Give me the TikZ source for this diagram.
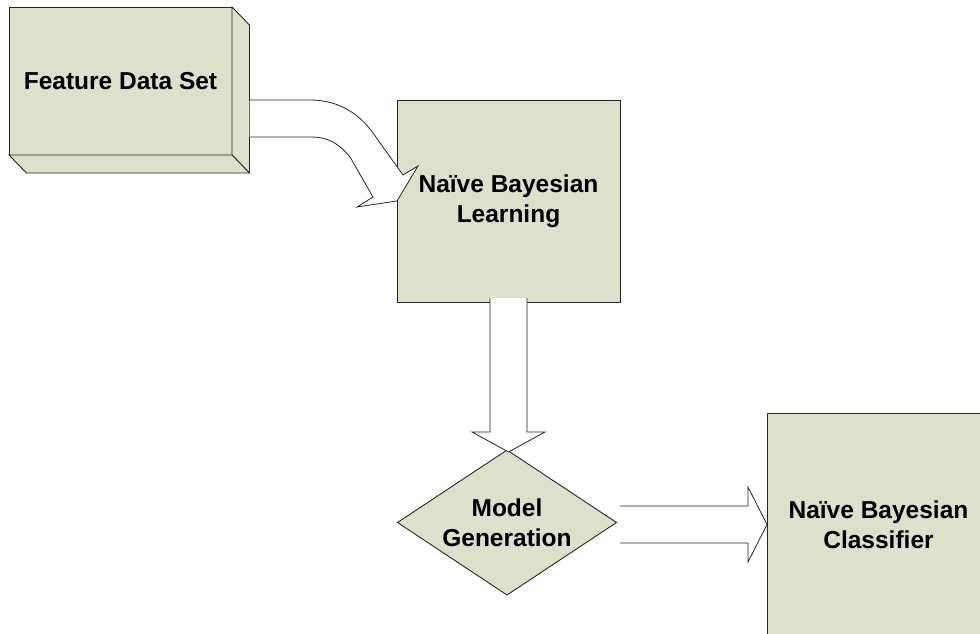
\documentclass[tikz,border=0pt]{standalone}
\usepackage{fontspec}
\setmainfont{Liberation Sans}
\usetikzlibrary{calc,shapes.geometric}
\definecolor{boxfill}{HTML}{DDE0CA}
\definecolor{edge}{HTML}{262626}
\begin{document}
\begin{tikzpicture}[x=1pt,y=-1pt,
  txt/.style={font=\fontsize{24.5}{30}\selectfont\bfseries, align=center, text=black, inner sep=0pt},
  boxface/.style={draw=edge, line width=0.9pt, fill=boxfill, inner sep=0pt, outer sep=0pt, txt},
  blockarrow/.style={draw=edge, line width=0.8pt, fill=white, line join=miter}]
\useasboundingbox (0,0) rectangle (980,634);
\clip (0,0) rectangle (980,634);

% 3D box: front face plus right and bottom faces
\node[boxface, minimum width=223pt, minimum height=148pt] (fds) at (120.5,81) {Feature Data Set};
\draw[boxface] (fds.north east) -- ++(17.5,18) -- ++(0,148) -- (fds.south east) -- cycle;
\draw[boxface] (fds.south west) -- ++(17.5,18) -- ($(fds.south east)+(17.5,18)$) -- (fds.south east) -- cycle;

% learning block
\node[boxface, minimum width=223pt, minimum height=202pt] (learn) at (508.5,201) {Naïve Bayesian\\Learning};

% classifier block, running past the lower edge
\node[boxface, minimum width=223pt, minimum height=250pt, anchor=north] (class) at (878.5,413) {};
\node[txt] (classtext) at (878.5,524.5) {Naïve Bayesian\\Classifier};
\coordinate (classin) at (class.west |- classtext.center);

% decision diamond
\node[boxface, diamond, aspect=1.5, minimum width=219pt, minimum height=145pt] (model) at (507,522.5) {Model\\Generation};

% curved block arrow from the data set into the learning block
\coordinate (ca1) at ($(fds.north east)+(17.5,93)$);
\coordinate (ca2) at ($(fds.north east)+(17.5,130)$);
\begin{scope}[shift={(learn.west)}]
\draw[blockarrow] (ca2) -- (-87,-64) .. controls (-67,-64) and (-57,-56) .. (-47,-44)
  -- (-24,-4) -- (-40,6) -- (0,0) -- (21,-35) -- (6,-26) -- (-24,-68)
  .. controls (-37,-86) and (-57,-101) .. (-87,-101) -- (ca1);
\end{scope}

% straight block arrow down to the diamond
\begin{scope}[shift={(learn.south)}]
\draw[blockarrow] (-18.5,-4) -- (-18.5,130) -- (-36.5,130) -- (0,150) -- (36.5,130) -- (18.5,130) -- (18.5,-4);
\end{scope}

% straight block arrow into the classifier
\begin{scope}[shift={(classin)}]
\draw[blockarrow] (-147,-18.5) -- (-19,-18.5) -- (-19,-37.5) -- (0,0) -- (-19,37.5) -- (-19,18.5) -- (-147,18.5);
\end{scope}
\end{tikzpicture}
\end{document}
